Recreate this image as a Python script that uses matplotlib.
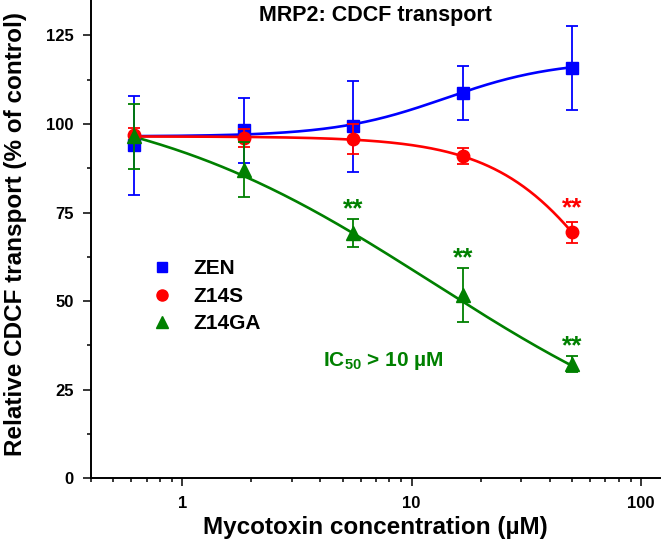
import numpy as np
import matplotlib
matplotlib.use('Agg')
import matplotlib.pyplot as plt
from matplotlib.lines import Line2D
from matplotlib.ticker import FixedLocator, NullFormatter, LogLocator

plt.rcParams['font.family'] = ['Liberation Sans', 'DejaVu Sans']
plt.rcParams['mathtext.fontset'] = 'custom'
plt.rcParams['mathtext.rm'] = 'Liberation Sans:bold'
plt.rcParams['mathtext.bf'] = 'Liberation Sans:bold'

# ---- data ----
conc = [0.617, 1.85, 5.56, 16.7, 50.0]
zen = [94.0, 98.2, 99.3, 108.8, 115.8]
zen_err = [14.0, 9.2, 12.8, 7.6, 11.8]
z14s = [97.0, 96.0, 95.8, 90.9, 69.4]
z14s_err = [2.0, 2.6, 4.2, 2.2, 3.0]
z14ga = [96.5, 87.1, 69.2, 51.8, 32.2]
z14ga_err = [9.2, 7.8, 3.9, 7.6, 2.2]
series_names = ['ZEN', 'Z14S', 'Z14GA']

# fitted curve parameters (value at low conc, value at high conc, x50, hill)
zen_fit = (96.5, 118.0, 14.0, 1.8)
z14s_fit = (96.5, 0.0, 87.6, 1.68)
z14ga_fit = (110.0, 0.0, 12.5, 0.65)

# significance marks: (series index, point index)
sig_marks = [(2, 2), (2, 3), (2, 4), (1, 4)]

y_ticks = [0, 25, 50, 75, 100, 125]
x_tick_labels = ['1', '10', '100']

colors = ['#0000ff', '#ff0000', '#008000']
markers = ['s', 'o', '^']
msizes = [8, 9, 9.5]


def four_pl(x, low, high, x50, h):
    return high + (low - high) / (1.0 + (x / x50) ** h)


fig = plt.figure(figsize=(6.61, 5.47), dpi=100)
ax = fig.add_axes([91 / 661, (547 - 478.3) / 547, (660 - 91) / 661, 478.3 / 547])

ys = [zen, z14s, z14ga]
errs = [zen_err, z14s_err, z14ga_err]
fits = [zen_fit, z14s_fit, z14ga_fit]

xs = np.geomspace(conc[0], conc[-1], 300)
for i in range(3):
    ax.plot(xs, four_pl(xs, *fits[i]), color=colors[i], lw=1.9, zorder=2)
for i in range(3):
    ax.errorbar(conc, ys[i], yerr=errs[i], fmt=markers[i], color=colors[i],
                ms=msizes[i], capsize=4.5, elinewidth=1.3, capthick=1.3,
                zorder=3 + i)

for si, pi in sig_marks:
    ax.annotate('**', xy=(conc[pi], ys[si][pi] + errs[si][pi]),
                xytext=(0, 2 if si == 2 else 5), textcoords='offset points',
                ha='center', va='baseline', color=colors[si],
                fontsize=19, fontweight='bold')

ax.text(0.408, 0.235, r'IC$_{\mathbf{50}}$ > 10 µM', transform=ax.transAxes,
        color=colors[2], fontsize=15, fontweight='bold', ha='left', va='baseline')

ax.text(0.5, 1 - 20.7 / 478.3, 'MRP2: CDCF transport', transform=ax.transAxes,
        ha='center', va='baseline', fontsize=15.5, fontweight='bold')

handles = [Line2D([], [], ls='none', marker=markers[i], color=colors[i], ms=msizes[i] - 1)
           for i in range(3)]
ax.legend(handles, series_names, loc='upper left', bbox_to_anchor=(0.107, 0.4575),
          frameon=False, handlelength=1.0, handletextpad=1.0, labelspacing=0.4,
          borderpad=0, borderaxespad=0,
          prop={'weight': 'bold', 'size': 15})

ax.set_xscale('log')
ax.set_xlim(0.4, 121)
ax.set_ylim(0, 135)
ax.set_xticks([1, 10, 100])
ax.set_xticklabels(x_tick_labels)
ax.xaxis.set_minor_locator(LogLocator(base=10, subs=np.arange(2, 10)))
ax.xaxis.set_minor_formatter(NullFormatter())
ax.set_yticks(y_ticks)
ax.yaxis.set_minor_locator(FixedLocator(np.arange(12.5, 135, 25)))

for s in ['top', 'right']:
    ax.spines[s].set_visible(False)
for s in ['left', 'bottom']:
    ax.spines[s].set_linewidth(1.4)

ax.tick_params(which='major', direction='out', length=5.5, width=1.1, pad=7,
               labelsize=12)
ax.tick_params(which='minor', direction='out', length=3, width=1.1)
for lab in ax.get_xticklabels() + ax.get_yticklabels():
    lab.set_fontweight('bold')

ax.set_xlabel('Mycotoxin concentration (µM)', fontsize=17.5, fontweight='bold')
ax.set_ylabel('Relative CDCF transport (% of control)', fontsize=17.5, fontweight='bold')
ax.yaxis.set_label_coords(-(91 - 27) / 569, (478.3 - 234) / 478.3)
ax.xaxis.set_label_coords(0.5, -(516.0 - 478.3) / 478.3)

fig.savefig('out.png', dpi=100)
